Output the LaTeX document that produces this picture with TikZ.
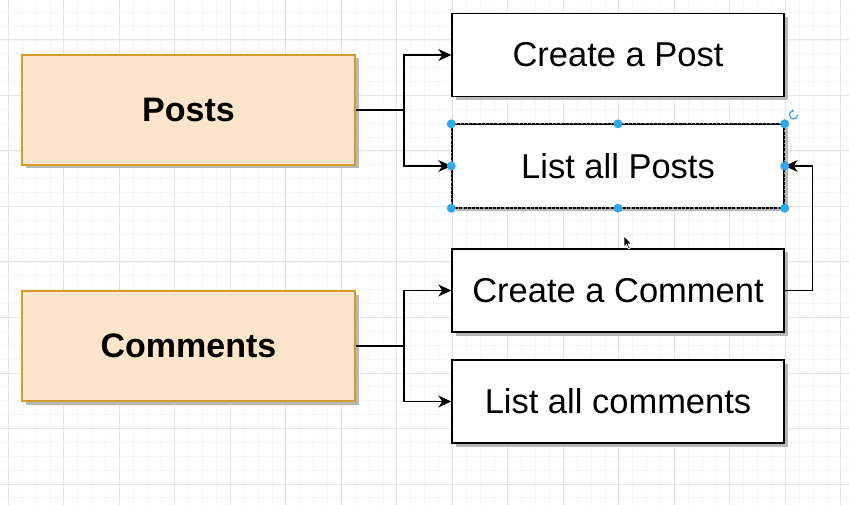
\documentclass[tikz,border=0pt]{standalone}
\usepackage{fontspec}
\setmainfont{Liberation Sans}
\usepackage{tikz}
\usetikzlibrary{shadows}
\usetikzlibrary{positioning}
\usetikzlibrary{arrows.meta,shapes}
\usetikzlibrary{calc}
\definecolor{peach}{HTML}{FDE5CB}
\definecolor{gold}{HTML}{D69C2A}
\definecolor{handle}{HTML}{2FA9EE}
\tikzstyle{boxshadow}=[drop shadow={shadow xshift=3.5pt,shadow yshift=-3.5pt,fill=black!28,opacity=1}]
\tikzstyle{entity}=[rectangle,fill=peach,draw=gold,line width=1.4pt,minimum width=333pt,minimum height=110pt,inner sep=0pt,font=\fontsize{34}{40}\selectfont\bfseries,boxshadow]
\tikzstyle{action}=[rectangle,fill=white,draw=black,line width=1.4pt,minimum width=332pt,minimum height=83pt,inner sep=0pt,font=\fontsize{34.5}{40}\selectfont,boxshadow]
\tikzstyle{edge} = [draw,line width=1.3pt,-{Stealth[length=13pt,width=12pt,inset=4pt]}]
\tikzstyle{minorgrid} = [draw=black!4,line width=0.8pt]
\tikzstyle{majorgrid} = [draw=black!10,line width=1pt]
\tikzstyle{selected} = [draw=black,line width=1.4pt,dash pattern=on 3pt off 1.2pt]

\begin{document}
\begin{tikzpicture}[x=1pt,y=-1pt]

    \useasboundingbox (0,0) rectangle (849,505);
    \fill[white] (0,0) rectangle (849,505);

    % Draw the background grid
    \foreach \k in {0,...,60}
        \path[minorgrid] ({8.3+13.875*\k},0) -- ({8.3+13.875*\k},505);
    \foreach \k in {-2,...,33}
        \path[minorgrid] (0,{40+13.875*\k}) -- (849,{40+13.875*\k});
    \foreach \k in {0,...,15}
        \path[majorgrid] ({8.3+55.5*\k},0) -- ({8.3+55.5*\k},505);
    \foreach \k in {0,...,8}
        \path[majorgrid] (0,{40+55.5*\k}) -- (849,{40+55.5*\k});

    % First we draw the boxes
    \foreach \pos/\name/\label in {{(188.5,110)/posts/Posts}, {(188.5,346)/comments/Comments}}
        \node[entity] (\name) at \pos {\label};
    \foreach \pos/\name/\label in {{(618,55)/cpost/Create a Post}, {(618,166)/lposts/List all Posts}, {(618,290.5)/ccomment/Create a Comment}, {(618,401.5)/lcomments/List all comments}}
        \node[action] (\name) at \pos {\label};

    % Connect boxes with edges
  \foreach \source/ \dest in {posts/cpost, posts/lposts, comments/ccomment, comments/lcomments}
          \path[edge] (\source.east) -- ++(48.3,0) |- (\dest.west);
          \path[edge] (ccomment.east) -- ++(28,0) |- (lposts.east);

    % Selection of the box
    \draw[black!45,line width=1.4pt] (lposts.north west) rectangle (lposts.south east);
    \draw[selected] (lposts.north west) rectangle (lposts.south east);
  \foreach \anchor in {north west,north,north east,east,south east,south,south west,west}
          \fill[handle] (lposts.\anchor) circle (4.5);
    \draw[handle,line width=1.2pt,-{Stealth[length=2.5pt,width=3.5pt]}] (797.5,115) arc[start angle=0,end angle=280,radius=4];

    % Mouse pointer
    \filldraw[fill=black,draw=white,line width=0.6pt] (624,236) -- (624,247) -- (626.5,244.5) -- (628.5,249) -- (630,248.3) -- (628,244) -- (631.5,244) -- cycle;

\end{tikzpicture}
\end{document}
